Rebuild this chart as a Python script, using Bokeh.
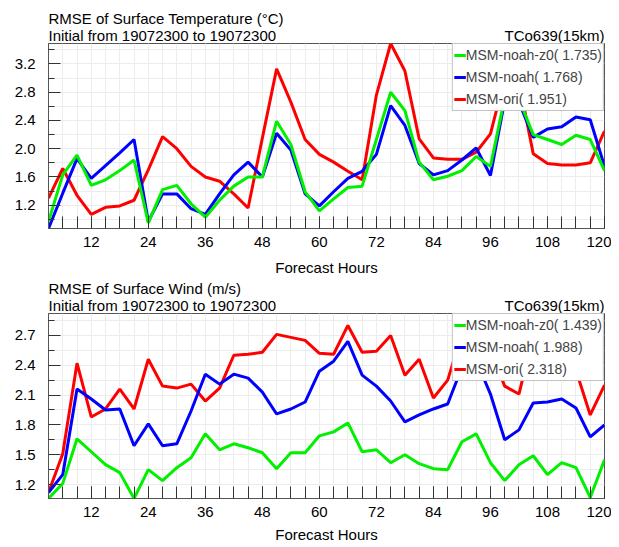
from bokeh.plotting import figure
from bokeh.models import (Range1d, FixedTicker, Legend, LegendItem, Title,
                          LinearAxis, PrintfTickFormatter)
from bokeh.layouts import column
from bokeh.embed import file_html
from bokeh.resources import INLINE

# ---------------- data ----------------
hours = list(range(3, 121, 3))

t_noah_z0 = [0.97, 1.63, 1.91, 1.48, 1.56, 1.69, 1.84, 0.95, 1.42, 1.48,
             1.22, 1.03, 1.27, 1.47, 1.60, 1.60, 2.39, 2.06, 1.39, 1.12,
             1.29, 1.45, 1.47, 2.13, 2.80, 2.54, 1.81, 1.56, 1.61, 1.69,
             1.89, 1.75, 2.72, 2.70, 2.20, 2.13, 2.06, 2.19, 2.13, 1.69]
t_noah = [0.87, 1.37, 1.86, 1.58, 1.76, 1.94, 2.13, 0.97, 1.36, 1.36,
          1.15, 1.07, 1.36, 1.63, 1.81, 1.60, 2.22, 1.98, 1.36, 1.19,
          1.39, 1.58, 1.68, 1.92, 2.61, 2.33, 1.79, 1.63, 1.69, 1.84,
          2.01, 1.62, 2.68, 2.66, 2.16, 2.28, 2.31, 2.45, 2.41, 1.75]
t_ori = [1.30, 1.72, 1.34, 1.07, 1.17, 1.19, 1.27, 1.70, 2.17, 2.00,
         1.75, 1.60, 1.54, 1.36, 1.16, 2.15, 3.13, 2.66, 2.13, 1.92,
         1.81, 1.68, 1.56, 2.76, 3.49, 3.10, 2.14, 1.87, 1.85, 1.85,
         1.95, 2.21, 3.00, 2.95, 1.93, 1.79, 1.77, 1.77, 1.80, 2.25]

w_noah_z0 = [1.06, 1.21, 1.66, 1.53, 1.40, 1.32, 1.06, 1.35, 1.24, 1.37,
             1.47, 1.71, 1.55, 1.61, 1.57, 1.52, 1.36, 1.52, 1.52, 1.69,
             1.73, 1.82, 1.53, 1.55, 1.42, 1.50, 1.41, 1.36, 1.35, 1.63,
             1.71, 1.42, 1.24, 1.40, 1.49, 1.30, 1.42, 1.37, 1.07, 1.45]
w_noah = [1.12, 1.30, 2.16, 2.06, 1.95, 1.96, 1.59, 1.81, 1.59, 1.61,
          1.94, 2.31, 2.21, 2.31, 2.27, 2.13, 1.91, 1.96, 2.03, 2.34,
          2.44, 2.64, 2.30, 2.19, 2.04, 1.83, 1.90, 1.96, 2.01, 2.38,
          2.45, 2.11, 1.65, 1.75, 2.02, 2.03, 2.06, 1.97, 1.68, 1.80]
w_ori = [1.12, 1.51, 2.42, 1.88, 1.96, 2.16, 1.96, 2.46, 2.19, 2.17,
         2.21, 2.04, 2.17, 2.50, 2.51, 2.53, 2.71, 2.68, 2.65, 2.52,
         2.51, 2.80, 2.53, 2.54, 2.70, 2.30, 2.46, 2.07, 2.25, 2.72,
         2.92, 2.55, 2.19, 2.11, 2.70, 2.62, 2.65, 2.35, 1.90, 2.20]

t_labels = ["MSM-noah-z0( 1.735)", "MSM-noah( 1.768)", "MSM-ori( 1.951)"]
w_labels = ["MSM-noah-z0( 1.439)", "MSM-noah( 1.988)", "MSM-ori( 2.318)"]

t_title = "RMSE of Surface Temperature (\u00b0C)"
w_title = "RMSE of Surface Wind (m/s)"
subtitle = "Initial from 19072300 to 19072300"
res_text = "TCo639(15km)"

x_major = list(range(12, 121, 12))
x_minor = list(range(3, 121, 3))
t_major = [1.2, 1.6, 2.0, 2.4, 2.8, 3.2]
t_minor = [1.0, 1.4, 1.8, 2.2, 2.6, 3.0, 3.4]
w_major = [1.2, 1.5, 1.8, 2.1, 2.4, 2.7]
w_minor = [1.05, 1.35, 1.65, 1.95, 2.25, 2.55, 2.85]

FONT = "Liberation Sans"
COLORS = ["#00f000", "#0000ff", "#ff0000"]
X0, X1 = 3, 120
FRAME_W = 556
PX_PER_H = FRAME_W / (X1 - X0)
FS = 15
# Liberation Sans advance widths (em) used to place the header texts
W_SUB = 15.176 * FS
W_RES = 6.668 * FS
SUB_POS = X0 + (W_SUB / 2.0) / PX_PER_H
RES_POS = X1 - (W_RES / 2.0) / PX_PER_H


def make_panel(title1, series, labels, ymaj, ymin_t,
               border_top, frame_h, border_bottom, title_standoff,
               xlabel_standoff):
    lo = min(min(s) for s in series)
    hi = max(max(s) for s in series)
    p = figure(frame_width=FRAME_W, frame_height=frame_h, title=None,
               min_border_left=48, min_border_right=7,
               min_border_top=border_top, min_border_bottom=border_bottom,
               x_range=Range1d(X0, X1), y_range=Range1d(lo, hi),
               output_backend="svg", toolbar_location=None)
    p.outline_line_color = "#555555"
    p.outline_line_width = 1

    p.xaxis.ticker = FixedTicker(ticks=x_major, minor_ticks=x_minor)
    p.yaxis.ticker = FixedTicker(ticks=ymaj, minor_ticks=ymin_t)
    p.yaxis.formatter = PrintfTickFormatter(format="%.1f")

    for ax in (p.xaxis[0], p.yaxis[0]):
        ax.axis_line_color = "#555555"
        ax.major_tick_line_color = "#333333"
        ax.minor_tick_line_color = "#333333"
        ax.major_tick_out = 0
        ax.minor_tick_out = 0
        ax.major_label_text_font = FONT
        ax.major_label_text_font_size = "15px"
        ax.major_label_text_color = "#000000"
    p.xaxis.major_tick_in = 12
    p.xaxis.minor_tick_in = 12
    p.yaxis.major_tick_in = 12
    p.yaxis.minor_tick_in = 6
    p.xaxis.major_label_standoff = 8
    p.yaxis.major_label_standoff = 13
    p.xaxis.axis_label = "Forecast Hours"
    p.xaxis.axis_label_text_font = FONT
    p.xaxis.axis_label_text_font_size = "15px"
    p.xaxis.axis_label_text_font_style = "normal"
    p.xaxis.axis_label_text_color = "#000000"
    p.xaxis.axis_label_standoff = xlabel_standoff

    for g in (p.xgrid[0], p.ygrid[0]):
        g.grid_line_color = "#ececec"
        g.minor_grid_line_color = "#ececec"

    rends = []
    for s, c in zip(series, COLORS):
        rends.append(p.line(hours, s, line_color=c, line_width=3))
    p.renderers = [rends[2], rends[1], rends[0]]

    items = [LegendItem(label=lab, renderers=[r]) for lab, r in zip(labels, rends)]
    leg = Legend(items=items, location="top_right", margin=0, padding=1,
                 spacing=2, glyph_width=12, glyph_height=20, label_height=20,
                 label_standoff=0, label_text_font=FONT,
                 label_text_font_size="14px", border_line_color="#888888",
                 background_fill_color="white", background_fill_alpha=1.0)
    p.add_layout(leg)

    # header line 2 (subtitle at left, resolution at right) as an axis above
    head = LinearAxis(ticker=FixedTicker(ticks=[SUB_POS, RES_POS], minor_ticks=[]),
                      major_label_overrides={SUB_POS: subtitle, RES_POS: res_text})
    head.axis_line_color = None
    head.major_tick_line_color = None
    head.minor_tick_line_color = None
    head.major_tick_out = 0
    head.major_tick_in = 0
    head.major_label_standoff = 0
    head.major_label_text_font = FONT
    head.major_label_text_font_size = "15px"
    head.major_label_text_color = "#000000"
    p.add_layout(head, "above")

    # header line 1
    p.add_layout(Title(text=title1, align="left", text_font=FONT,
                       text_font_size="15px", text_font_style="normal",
                       text_color="#000000", standoff=title_standoff, offset=0),
                 "above")
    return p


p1 = make_panel(t_title, [t_noah_z0, t_noah, t_ori], t_labels, t_major, t_minor,
                43, 185, 51, -6, 9)
p2 = make_panel(w_title, [w_noah_z0, w_noah, w_ori], w_labels, w_major, w_minor,
                34, 185, 48, -6, 6)

layout = column(p1, p2, spacing=0)
open("out.html", "w").write(file_html(layout, INLINE))
